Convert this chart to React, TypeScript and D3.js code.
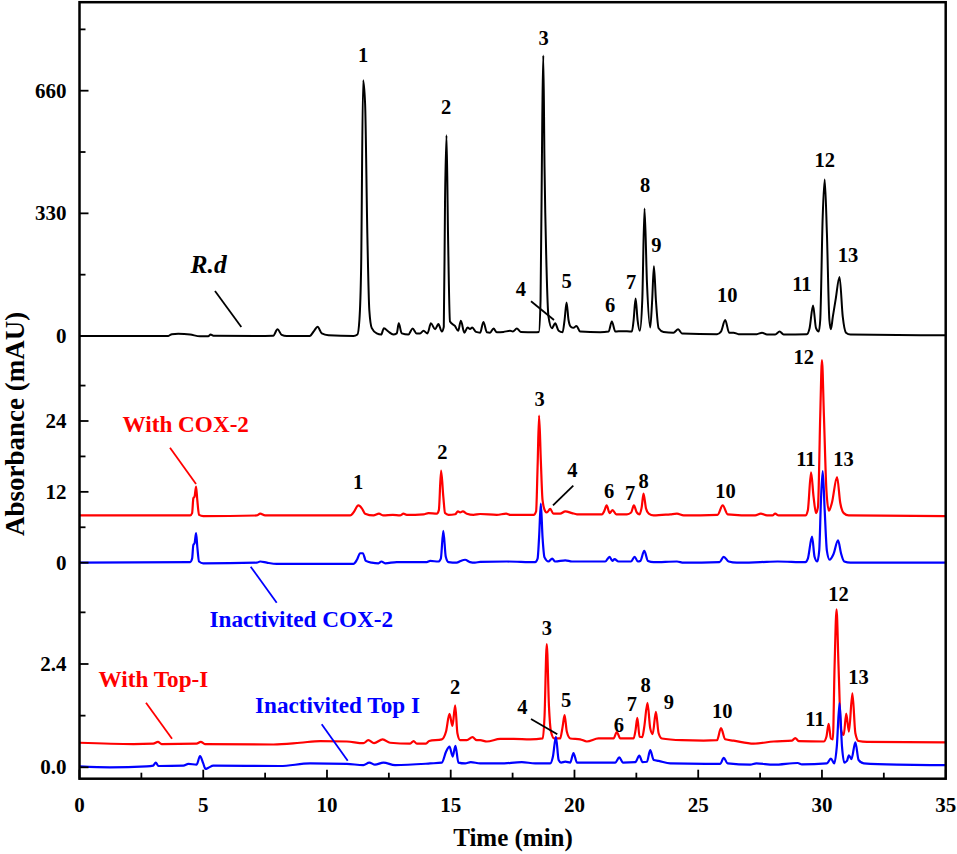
import { useEffect, useRef } from 'react'
import * as d3 from 'd3'

type Pt = [number, number]
type Lab = [string, number, number]

// [time (min), absorbance]
const rdTrace: Pt[] = [
  [0, 0], [3.59, 0], [3.73, 5], [3.99, 6], [4.47, 4], [4.87, -1], [5.2, -1], [5.3, 4], [5.41, 1], [7.16, 0], [7.83, 1],
  [8.0, 18], [8.17, 3], [8.37, 0], [9.3, 0], [9.48, 14], [9.62, 25], [9.79, 7], [10.06, 2], [11.07, 0], [11.23, 4],
  [11.31, 43], [11.38, 186], [11.46, 688], [11.54, 625], [11.63, 276], [11.71, 70], [11.81, 21], [12.01, 7], [12.19, 4],
  [12.3, 21], [12.48, 12], [12.68, 4], [12.82, 7], [12.9, 34], [13.02, 7], [13.29, 4], [13.46, 20], [13.62, 7], [13.76, 7],
  [13.9, 14], [14.06, 7], [14.2, 34], [14.37, 18], [14.5, 32], [14.64, 12], [14.72, 25], [14.77, 365], [14.83, 540],
  [14.89, 276], [14.97, 39], [15.17, 27], [15.3, 14], [15.41, 41], [15.55, 9], [15.68, 23], [15.78, 19], [15.87, 23],
  [16.02, 11], [16.19, 9], [16.32, 38], [16.46, 10], [16.59, 9], [16.73, 20], [16.86, 10], [17.13, 11], [17.4, 14],
  [17.51, 12], [17.67, 20], [17.83, 11], [18.41, 10], [18.56, 11], [18.63, 97], [18.7, 590], [18.74, 755], [18.79, 455],
  [18.87, 186], [18.95, 52], [19.09, 21], [19.22, 34], [19.36, 14], [19.52, 10], [19.6, 43], [19.68, 90], [19.76, 43],
  [19.85, 25], [19.96, 22], [20.08, 27], [20.23, 12], [21.04, 10], [21.38, 12], [21.51, 39], [21.65, 12], [21.92, 13],
  [22.32, 12], [22.39, 43], [22.47, 101], [22.55, 43], [22.64, 14], [22.74, 97], [22.83, 343], [22.93, 142], [23.06, 23],
  [23.14, 97], [23.21, 188], [23.29, 97], [23.4, 21], [23.6, 11], [24.0, 9], [24.19, 18], [24.34, 7], [25.76, 5],
  [25.92, 12], [26.09, 43], [26.25, 9], [26.43, 9], [26.63, 5], [27.37, 5], [27.58, 9], [27.78, 4], [28.11, 4],
  [28.29, 12], [28.45, 4], [29.39, 5], [29.5, 21], [29.64, 82], [29.76, 21], [29.87, 12], [29.93, 43], [30.03, 321],
  [30.11, 421], [30.2, 276], [30.3, 43], [30.36, 18], [30.44, 52], [30.55, 97], [30.71, 159], [30.84, 52], [30.97, 9],
  [31.15, 4], [35, 2],
]

const cox2Trace: Pt[] = [
  [0, 8.0], [4.47, 8.0], [4.55, 8.4], [4.6, 10.9], [4.65, 11.2], [4.71, 12.9], [4.76, 10.6], [4.83, 8.1], [5.0, 7.9],
  [7.16, 8.0], [7.3, 8.3], [7.5, 8.0], [10.94, 8.0], [11.07, 8.5], [11.27, 9.7], [11.41, 9.2], [11.54, 8.3], [11.88, 8.0],
  [12.1, 8.3], [12.28, 8.0], [12.66, 8.1], [12.95, 8.0], [13.09, 8.3], [13.22, 8.1], [13.9, 8.2], [14.1, 8.4], [14.44, 8.3],
  [14.52, 8.9], [14.61, 15.6], [14.7, 11.2], [14.77, 8.4], [14.91, 8.1], [15.18, 8.2], [15.29, 8.7], [15.38, 8.5],
  [15.49, 8.7], [15.65, 8.3], [15.92, 8.1], [16.19, 8.25], [16.86, 8.1], [17.24, 8.3], [17.4, 8.1], [18.35, 8.1],
  [18.45, 8.7], [18.51, 16.3], [18.57, 24.9], [18.64, 17.4], [18.71, 10.6], [18.82, 8.7], [18.88, 8.5], [19.02, 9.1],
  [19.15, 8.3], [19.42, 8.3], [19.63, 8.7], [19.9, 8.4], [20.1, 8.2], [21.11, 8.2], [21.2, 8.7], [21.3, 9.7], [21.42, 8.4],
  [21.54, 8.9], [21.69, 8.2], [22.12, 8.2], [22.29, 8.5], [22.4, 9.7], [22.52, 8.5], [22.63, 8.2], [22.72, 9.5],
  [22.79, 11.7], [22.89, 9.2], [23.0, 8.3], [23.2, 8.0], [23.87, 8.2], [24.14, 8.3], [24.41, 8.0], [25.78, 8.1],
  [25.99, 9.7], [26.19, 8.2], [27.3, 8.0], [27.53, 8.3], [27.78, 8.0], [28.0, 8.0], [28.11, 8.3], [28.25, 8.0], [29.33, 8.0],
  [29.43, 8.9], [29.56, 15.3], [29.66, 11.2], [29.76, 8.4], [29.84, 9.5], [29.93, 24.8], [30.0, 34.3], [30.08, 24.8],
  [30.18, 12.3], [30.28, 8.8], [30.4, 10.1], [30.61, 14.5], [30.74, 10.1], [30.88, 8.4], [31.08, 8.0], [35, 7.9],
]

const cox2InactTrace: Pt[] = [
  [0, 0], [4.47, 0.1], [4.55, 0.7], [4.6, 3.0], [4.65, 3.3], [4.71, 5.0], [4.76, 2.7], [4.83, 0.2], [5.0, -0.1], [7.16, 0],
  [7.3, 0.2], [7.57, 0], [7.97, -0.2], [11.07, -0.2], [11.21, 0.5], [11.34, 1.6], [11.45, 1.6], [11.57, 0.3], [11.81, 0],
  [12.08, -0.1], [12.2, 0.2], [12.35, -0.1], [12.82, 0.1], [13.16, 0.1], [14.03, 0.1], [14.17, 0.3], [14.5, 0.2], [14.6, 0.7],
  [14.7, 5.4], [14.8, 1.0], [14.91, 0.1], [15.24, 0], [15.4, 0.3], [15.58, 0.5], [15.78, 0.1], [15.98, 0], [16.19, 0.15],
  [17.27, 0.2], [18.41, 0.1], [18.51, 0.7], [18.57, 4.3], [18.64, 10.0], [18.71, 4.3], [18.79, 0.9], [18.95, 0.2],
  [19.1, 0.7], [19.22, 0.2], [19.63, 0.4], [19.9, 0.2], [21.24, 0.2], [21.42, 1.0], [21.53, 0.3], [21.62, 0.6], [21.78, 0.2],
  [22.28, 0.2], [22.43, 1.0], [22.56, 0.2], [22.66, 0.3], [22.82, 2.0], [22.97, 0.3], [23.2, 0.1], [24.14, 0.2], [24.41, 0],
  [25.86, 0.1], [26.03, 1.0], [26.23, 0.2], [26.56, 0], [27.51, 0.1], [28.21, 0.2], [29.33, 0.1], [29.43, 0.7], [29.6, 4.4],
  [29.7, 1.0], [29.81, 0.2], [29.89, 2.1], [29.96, 10.6], [30.03, 15.5], [30.11, 8.9], [30.2, 2.0], [30.31, 0.5], [30.47, 1.5],
  [30.65, 3.8], [30.77, 1.6], [30.9, 0.2], [31.15, 0], [35, 0],
]

const topITrace: Pt[] = [
  [0, 0.57], [2.18, 0.54], [2.98, 0.55], [3.17, 0.59], [3.32, 0.54], [4.73, 0.55], [4.9, 0.59], [5.07, 0.54], [7.84, 0.53],
  [8.91, 0.57], [9.73, 0.61], [10.8, 0.6], [11.47, 0.56], [11.67, 0.63], [11.9, 0.56], [12.25, 0.65], [12.55, 0.57],
  [13.36, 0.55], [13.5, 0.61], [13.63, 0.55], [14.0, 0.55], [14.13, 0.61], [14.64, 0.65], [14.81, 0.83], [14.95, 1.24],
  [15.07, 0.96], [15.18, 1.44], [15.27, 0.79], [15.38, 0.63], [15.65, 0.63], [15.88, 0.7], [16.05, 0.63], [16.19, 0.63],
  [16.46, 0.6], [17.0, 0.66], [17.54, 0.66], [18.21, 0.65], [18.72, 0.67], [18.79, 1.18], [18.88, 2.86], [18.97, 1.41],
  [19.05, 0.83], [19.18, 0.67], [19.42, 0.67], [19.52, 0.94], [19.6, 1.21], [19.69, 0.83], [19.83, 0.67], [20.23, 0.65],
  [20.5, 0.6], [20.97, 0.67], [21.58, 0.67], [21.71, 0.82], [21.85, 0.67], [22.39, 0.67], [22.47, 0.87], [22.54, 1.15],
  [22.63, 0.71], [22.74, 0.7], [22.82, 0.94], [22.95, 1.5], [23.06, 0.91], [23.16, 0.77], [23.29, 1.29], [23.4, 0.79],
  [23.53, 0.67], [24.34, 0.63], [25.22, 0.62], [25.76, 0.63], [25.92, 0.91], [26.09, 0.65], [26.43, 0.62], [27.24, 0.55],
  [28.05, 0.6], [28.79, 0.62], [28.92, 0.68], [29.06, 0.61], [30.07, 0.6], [30.18, 0.71], [30.27, 1.01], [30.36, 0.67],
  [30.44, 0.65], [30.51, 2.34], [30.59, 3.67], [30.67, 2.34], [30.77, 0.87], [30.88, 0.75], [30.98, 1.25], [31.09, 0.83],
  [31.23, 1.72], [31.35, 0.79], [31.48, 0.61], [31.82, 0.59], [35, 0.58],
]

const topIInactTrace: Pt[] = [
  [0, 0.02], [1.23, 0], [2.71, 0.02], [2.98, 0.04], [3.08, 0.11], [3.19, 0.03], [4.2, 0.04], [4.4, 0.08], [4.73, 0.06],
  [4.87, 0.26], [5.0, 0.09], [5.09, -0.04], [5.21, -0.01], [5.41, 0.04], [8.1, 0.03], [9.32, 0.09], [10.8, 0.08],
  [11.47, 0.05], [11.71, 0.11], [11.94, 0.06], [12.28, 0.11], [12.75, 0.05], [14.17, 0.09], [14.64, 0.11], [14.81, 0.36],
  [14.95, 0.48], [15.08, 0.25], [15.19, 0.5], [15.31, 0.11], [15.58, 0.09], [15.81, 0.12], [16.19, 0.09], [17.0, 0.09],
  [17.87, 0.12], [18.41, 0.09], [19.02, 0.09], [19.13, 0.25], [19.25, 0.71], [19.36, 0.17], [19.46, 0.11], [19.63, 0.13],
  [19.83, 0.11], [19.96, 0.33], [20.1, 0.11], [21.65, 0.11], [21.81, 0.23], [21.96, 0.11], [22.46, 0.12], [22.62, 0.27],
  [22.75, 0.12], [22.93, 0.13], [23.06, 0.4], [23.2, 0.17], [23.4, 0.15], [23.87, 0.09], [25.89, 0.08], [26.03, 0.22],
  [26.19, 0.09], [27.1, 0.06], [27.35, 0.09], [28.05, 0.06], [29.02, 0.1], [29.19, 0.07], [30.2, 0.09], [30.36, 0.2],
  [30.5, 0.09], [30.6, 0.48], [30.71, 1.49], [30.81, 0.48], [30.9, 0.11], [31.01, 0.15], [31.09, 0.28], [31.19, 0.19],
  [31.35, 0.58], [31.48, 0.17], [31.69, 0.09], [33.03, 0.06], [35, 0.05],
]

// peak number, time, level of the text baseline in the panel's own units
const rdPeaks: Lab[] = [
  ['1', 11.46, 736], ['2', 14.81, 597], ['3', 18.75, 782], ['4', 17.83, 108], ['5', 19.68, 129], ['6', 21.44, 65], ['7', 22.29, 126],
  ['8', 22.85, 388], ['9', 23.31, 225], ['10', 26.17, 92], ['11', 29.19, 121], ['12', 30.11, 455], ['13', 31.05, 200],
]
const cox2Peaks: Lab[] = [
  ['1', 11.26, 12.4], ['2', 14.66, 17.6], ['3', 18.59, 26.6], ['4', 19.92, 14.5], ['6', 21.4, 10.9], ['7', 22.25, 10.6],
  ['8', 22.79, 12.7], ['10', 26.1, 11], ['11', 29.35, 16.3], ['12', 29.26, 33.7], ['13', 30.87, 16.3],
]
const topIPeaks: Lab[] = [
  ['2', 15.18, 1.7], ['3', 18.88, 3.07], ['4', 17.9, 1.24], ['5', 19.66, 1.39], ['6', 21.79, 0.81], ['7', 22.32, 1.31],
  ['8', 22.88, 1.76], ['9', 23.81, 1.35], ['10', 25.97, 1.14], ['11', 29.72, 0.96], ['12', 30.67, 3.87], ['13', 31.48, 1.93],
]

const xMajor = [0, 5, 10, 15, 20, 25, 30, 35]
const xMinor = [2.5, 7.5, 12.5, 17.5, 22.5, 27.5, 32.5]

export default function App() {
  const ref = useRef<SVGSVGElement>(null)

  useEffect(() => {
    if (!ref.current) return
    const svg = d3.select(ref.current)
    svg.selectAll('*').remove()

    const left = 79.5, right = 945.7, top = 2.2, bottom = 778.7
    const x = d3.scaleLinear().domain([0, 35]).range([left, right])
    const yTop = d3.scaleLinear().domain([0, 660]).range([336, 90.7])
    const yMid = d3.scaleLinear().domain([0, 24]).range([562.7, 421])
    const yLow = d3.scaleLinear().domain([0, 2.4]).range([767.3, 664])

    const font = '"Liberation Serif", "Times New Roman", serif'
    const text = (s: string, tx: number, ty: number, size: number, fill = '#000', anchor = 'middle') =>
      svg.append('text')
        .attr('x', tx).attr('y', ty)
        .attr('text-anchor', anchor)
        .attr('font-family', font).attr('font-weight', 700)
        .attr('font-size', size).attr('fill', fill)
        .text(s)

    const trace = (data: Pt[], y: d3.ScaleLinear<number, number>, color: string, w: number) => {
      const line = d3.line<Pt>().x(d => x(d[0])).y(d => y(d[1])).curve(d3.curveMonotoneX)
      svg.append('path')
        .attr('d', line(data))
        .attr('fill', 'none').attr('stroke', color).attr('stroke-width', w)
        .attr('stroke-linejoin', 'round')
    }

    trace(rdTrace, yTop, '#000', 2)
    trace(cox2Trace, yMid, '#ff0000', 2.2)
    trace(cox2InactTrace, yMid, '#0000ff', 2.2)
    trace(topITrace, yLow, '#ff0000', 2.2)
    trace(topIInactTrace, yLow, '#0000ff', 2.2)

    // frame
    svg.append('rect')
      .attr('x', left).attr('y', top).attr('width', right - left).attr('height', bottom - top)
      .attr('fill', 'none').attr('stroke', '#000').attr('stroke-width', 2.5)

    const tick = (x1: number, y1: number, x2: number, y2: number) =>
      svg.append('line').attr('x1', x1).attr('y1', y1).attr('x2', x2).attr('y2', y2)
        .attr('stroke', '#000').attr('stroke-width', 1.8)

    // x axis
    xMajor.forEach(t => {
      tick(x(t), bottom, x(t), bottom - 9)
      text(String(t), x(t), 811.5, 21)
    })
    xMinor.forEach(t => tick(x(t), bottom, x(t), bottom - 6))

    // the three stacked y axes
    const yAxes: [d3.ScaleLinear<number, number>, number[], number[], (v: number) => string][] = [
      [yTop, [0, 330, 660], [165, 495, 825], v => String(v)],
      [yMid, [0, 12, 24], [6, 18, 30], v => String(v)],
      [yLow, [0, 2.4], [1.2, 3.6], d3.format('.1f')],
    ]
    yAxes.forEach(([y, major, minor, fmt]) => {
      major.forEach(v => {
        tick(left, y(v), left + 9, y(v))
        text(fmt(v), 66.5, y(v) + 7, 21, '#000', 'end')
      })
      minor.forEach(v => tick(left, y(v), left + 6, y(v)))
    })

    // peak numbers
    const peakLabels = (labs: Lab[], y: d3.ScaleLinear<number, number>) =>
      labs.forEach(([s, t, v]) => text(s, x(t), y(v), 20.5))
    peakLabels(rdPeaks, yTop)
    peakLabels(cox2Peaks, yMid)
    peakLabels(topIPeaks, yLow)

    // leaders
    const leader = (c: string, x1: number, y1: number, x2: number, y2: number) =>
      svg.append('line').attr('x1', x1).attr('y1', y1).attr('x2', x2).attr('y2', y2)
        .attr('stroke', c).attr('stroke-width', 1.8)
    leader('#000', 215, 291, 241.3, 327)
    leader('#000', 531, 301.3, 554, 320)
    leader('#ff0000', 170, 447.7, 196, 484)
    leader('#000', 573.3, 485.7, 553, 505.3)
    leader('#0000ff', 250.7, 566.7, 276.7, 602.7)
    leader('#ff0000', 146, 702.7, 172, 738.7)
    leader('#0000ff', 321.7, 724.3, 347.7, 760.7)
    leader('#000', 531, 719, 557.3, 734.3)

    // sample names
    text('R.d', 190.5, 273, 25.5, '#000', 'start').attr('font-style', 'italic')
    text('With COX-2', 122.5, 431.5, 23.2, '#ff0000', 'start')
    text('Inactivited COX-2', 209.5, 627.3, 23.2, '#0000ff', 'start')
    text('With Top-I', 98.5, 686.5, 23.2, '#ff0000', 'start')
    text('Inactivited Top I', 255, 713.3, 23.2, '#0000ff', 'start')

    // axis titles
    text('Time (min)', 513, 846, 25)
    text('Absorbance (mAU)', 0, 0, 27).attr('transform', 'translate(24.2,424) rotate(-90)')
  }, [])

  return (
    <svg
      ref={ref}
      width={957}
      height={854}
      style={{ position: 'absolute', left: 0, top: 0, background: '#fff' }}
    />
  )
}
